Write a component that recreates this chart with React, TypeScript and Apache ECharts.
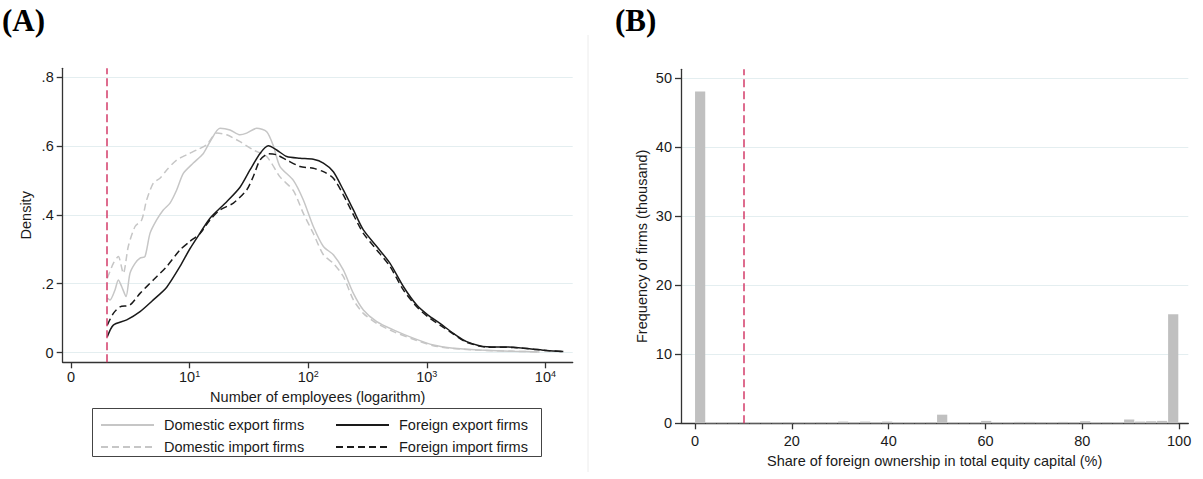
import React, { useEffect, useRef } from 'react';
import * as echarts from 'echarts';

// Panel A: kernel densities over log10(number of employees)
const domesticExport: number[][] = [
  [0.306, 0.158], [0.329, 0.153], [0.371, 0.182], [0.399, 0.211], [0.427, 0.192], [0.464, 0.163],
  [0.497, 0.23], [0.54, 0.259], [0.582, 0.274], [0.624, 0.279], [0.666, 0.346], [0.722, 0.385],
  [0.778, 0.414], [0.835, 0.434], [0.891, 0.472], [0.947, 0.52], [1.031, 0.55], [1.116, 0.578],
  [1.172, 0.612], [1.256, 0.651], [1.341, 0.646], [1.425, 0.632], [1.481, 0.637], [1.566, 0.651],
  [1.65, 0.641], [1.706, 0.6], [1.762, 0.54], [1.875, 0.5], [1.959, 0.443], [2.043, 0.366],
  [2.128, 0.308], [2.212, 0.284], [2.296, 0.24], [2.381, 0.172], [2.465, 0.124], [2.578, 0.09],
  [2.718, 0.066], [2.886, 0.042], [3.055, 0.022], [3.224, 0.013], [3.449, 0.008], [3.729, 0.004],
  [3.95, 0.002],
];
const domesticImport: number[][] = [
  [0.306, 0.216], [0.357, 0.259], [0.399, 0.279], [0.441, 0.23], [0.483, 0.308], [0.54, 0.366],
  [0.596, 0.385], [0.638, 0.443], [0.694, 0.492], [0.75, 0.506], [0.807, 0.53], [0.891, 0.559],
  [0.975, 0.574], [1.06, 0.588], [1.144, 0.603], [1.229, 0.637], [1.313, 0.632], [1.425, 0.612],
  [1.537, 0.588], [1.65, 0.569], [1.762, 0.51], [1.875, 0.47], [1.959, 0.404], [2.043, 0.346],
  [2.128, 0.284], [2.212, 0.259], [2.296, 0.221], [2.381, 0.153], [2.465, 0.114], [2.578, 0.085],
  [2.718, 0.061], [2.886, 0.039], [3.055, 0.02], [3.224, 0.012], [3.449, 0.007], [3.729, 0.004],
  [3.95, 0.002],
];
const foreignExport: number[][] = [
  [0.306, 0.046], [0.357, 0.08], [0.47, 0.095], [0.582, 0.119], [0.694, 0.153], [0.807, 0.19],
  [0.919, 0.25], [1.0, 0.3], [1.088, 0.347], [1.172, 0.39], [1.313, 0.438], [1.425, 0.48],
  [1.509, 0.53], [1.594, 0.578], [1.664, 0.6], [1.734, 0.588], [1.819, 0.569], [1.931, 0.564],
  [2.043, 0.561], [2.128, 0.55], [2.212, 0.525], [2.296, 0.472], [2.381, 0.414], [2.465, 0.356],
  [2.578, 0.308], [2.69, 0.259], [2.802, 0.192], [2.915, 0.138], [3.01, 0.109], [3.111, 0.085],
  [3.224, 0.056], [3.336, 0.032], [3.505, 0.017], [3.729, 0.016], [3.898, 0.01], [4.011, 0.006],
  [4.151, 0.003],
];
const foreignImport: number[][] = [
  [0.306, 0.08], [0.357, 0.114], [0.413, 0.133], [0.497, 0.138], [0.582, 0.172], [0.694, 0.211],
  [0.807, 0.25], [0.919, 0.298], [1.0, 0.322], [1.088, 0.346], [1.172, 0.385], [1.256, 0.414],
  [1.369, 0.434], [1.481, 0.472], [1.537, 0.511], [1.594, 0.559], [1.664, 0.577], [1.734, 0.574],
  [1.819, 0.559], [1.931, 0.54], [2.043, 0.535], [2.128, 0.525], [2.212, 0.506], [2.296, 0.458],
  [2.381, 0.4], [2.465, 0.346], [2.578, 0.298], [2.69, 0.25], [2.802, 0.182], [2.915, 0.133],
  [3.01, 0.104], [3.111, 0.08], [3.224, 0.054], [3.336, 0.03], [3.505, 0.016], [3.729, 0.015],
  [3.898, 0.01], [4.011, 0.006], [4.151, 0.003],
];
const xTicksA = [0, 1, 2, 3, 4];
const yTicksA = [0, 0.2, 0.4, 0.6, 0.8];
const employeeCutoff = 2; // employees

// Panel B: histogram of foreign ownership share (44 bins over 0-100%), thousand firms
const shareFreq = [
  48.1, 0.05, 0.05, 0.08, 0.1, 0.08, 0.08, 0.08, 0.15, 0.1, 0.08,
  0.15, 0.1, 0.25, 0.15, 0.25, 0.15, 0.25, 0.1, 0.08, 0.1, 0.15,
  1.25, 0.1, 0.1, 0.1, 0.35, 0.1, 0.1, 0.2, 0.2, 0.15, 0.1,
  0.2, 0.15, 0.3, 0.1, 0.15, 0.1, 0.55, 0.25, 0.3, 0.35, 15.8,
];
const binCount = 44;
const xTicksB = [0, 20, 40, 60, 80, 100];
const yTicksB = [0, 10, 20, 30, 40, 50];
const ownershipCutoff = 10;

const FONT = '"Liberation Sans", Arial, sans-serif';
const FS = 14.5;
const TXT = '#1a1a1a';
const AX = '#333333';
const GRIDC = '#e4eef0';
const RED = '#d43c6a';

export default function App() {
  const ref = useRef<HTMLDivElement>(null);
  useEffect(() => {
    const chart = echarts.init(ref.current!, null, { renderer: 'svg' });
    const bw = 100 / binCount;
    const bins = shareFreq.map((v, i) => [i * bw, (i + 1) * bw, v]);
    const axisLine = { show: true, onZero: false, lineStyle: { color: AX, width: 1.3 } };
    const tickStyle = { color: AX, width: 1.3 };
    const labelBase = { color: TXT, fontSize: FS, fontFamily: FONT };
    const nameStyle = { color: TXT, fontSize: FS, fontFamily: FONT };
    const legendCommon = {
      orient: 'vertical', top: 417.5, itemWidth: 53, itemHeight: 14, itemGap: 7, padding: 0,
      itemStyle: { opacity: 0, borderWidth: 0 },
      textStyle: { ...labelBase, padding: [0, 0, 0, 5] },
    };
    const option: any = {
      animation: false,
      backgroundColor: '#ffffff',
      textStyle: { fontFamily: FONT },
      title: [
        { text: '(A)', left: 2, top: 5, padding: 0, textStyle: { fontFamily: '"Liberation Serif", serif', fontWeight: 'bold', fontSize: 31, color: '#000' } },
        { text: '(B)', left: 615, top: 5, padding: 0, textStyle: { fontFamily: '"Liberation Serif", serif', fontWeight: 'bold', fontSize: 31, color: '#000' } },
      ],
      grid: [
        { left: 62.7, top: 68.3, width: 510, height: 294 },
        { left: 681, top: 69.3, width: 507.3, height: 354 },
      ],
      legend: [
        { ...legendCommon, data: ['Domestic export firms', 'Domestic import firms'], left: 100 },
        { ...legendCommon, data: ['Foreign export firms', 'Foreign import firms'], left: 335 },
      ],
      graphic: [
        { type: 'rect', shape: { x: 92.5, y: 408.5, width: 449, height: 48 }, style: { fill: 'none', stroke: '#444', lineWidth: 1 }, silent: true },
        { type: 'line', shape: { x1: 588, y1: 35, x2: 588, y2: 472 }, style: { stroke: '#ececec', lineWidth: 1 }, silent: true },
      ],
      xAxis: [
        {
          type: 'value', gridIndex: 0, min: -0.07, max: 4.23,
          axisLine, axisTick: { show: true, customValues: xTicksA, length: 6, lineStyle: tickStyle },
          axisLabel: {
            customValues: xTicksA, margin: 7,
            formatter: (v: number) => (v === 0 ? '{b|0}' : '{b|10}{s|' + v + '}'),
            rich: {
              b: { ...labelBase, lineHeight: 16 },
              s: { color: TXT, fontSize: 9, fontFamily: FONT, lineHeight: 16, verticalAlign: 'top' },
            },
          },
          splitLine: { show: false },
          name: 'Number of employees (logarithm)', nameLocation: 'middle', nameGap: 26, nameTextStyle: nameStyle,
        },
        {
          type: 'value', gridIndex: 1, min: -2.9, max: 101.9,
          axisLine, axisTick: { show: true, customValues: xTicksB, length: 6, lineStyle: tickStyle },
          axisLabel: { customValues: xTicksB, margin: 10, ...labelBase },
          splitLine: { show: false },
          name: 'Share of foreign ownership in total equity capital (%)', nameLocation: 'middle', nameGap: 24.5, nameTextStyle: nameStyle,
        },
      ],
      yAxis: [
        {
          type: 'value', gridIndex: 0, min: -0.028, max: 0.825,
          axisLine, axisTick: { show: true, customValues: yTicksA, length: 6, lineStyle: tickStyle },
          axisLabel: { customValues: yTicksA, margin: 9, ...labelBase, formatter: (v: number) => (v === 0 ? '0' : String(v).replace(/^0/, '')) },
          splitLine: { show: true, lineStyle: { color: GRIDC, width: 1 } },
          name: 'Density', nameLocation: 'middle', nameGap: 29, nameTextStyle: nameStyle,
        },
        {
          type: 'value', gridIndex: 1, min: 0, max: 51.3,
          axisLine, axisTick: { show: true, customValues: yTicksB, length: 6, lineStyle: tickStyle },
          axisLabel: { customValues: yTicksB, margin: 9, ...labelBase },
          splitLine: { show: true, lineStyle: { color: GRIDC, width: 1 } },
          name: 'Frequency of firms (thousand)', nameLocation: 'middle', nameGap: 32, nameTextStyle: nameStyle,
        },
      ],
      series: [
        {
          name: 'Domestic export firms', type: 'line', xAxisIndex: 0, yAxisIndex: 0, data: domesticExport,
          symbol: 'none', smooth: 0.25, lineStyle: { color: '#c6c6c6', width: 1.5, type: 'solid' }, itemStyle: { color: '#c6c6c6' },
          markLine: {
            silent: true, symbol: 'none', label: { show: false },
            lineStyle: { color: RED, type: [8, 4], width: 1.5 },
            data: [{ xAxis: Math.log10(employeeCutoff) }],
          },
        },
        {
          name: 'Domestic import firms', type: 'line', xAxisIndex: 0, yAxisIndex: 0, data: domesticImport,
          symbol: 'none', smooth: 0.25, lineStyle: { color: '#c6c6c6', width: 1.5, type: [7, 4] }, itemStyle: { color: '#c6c6c6' },
        },
        {
          name: 'Foreign export firms', type: 'line', xAxisIndex: 0, yAxisIndex: 0, data: foreignExport,
          symbol: 'none', smooth: 0.25, lineStyle: { color: '#1a1a1a', width: 1.5, type: 'solid' }, itemStyle: { color: '#1a1a1a' },
        },
        {
          name: 'Foreign import firms', type: 'line', xAxisIndex: 0, yAxisIndex: 0, data: foreignImport,
          symbol: 'none', smooth: 0.25, lineStyle: { color: '#1a1a1a', width: 1.5, type: [7, 4] }, itemStyle: { color: '#1a1a1a' },
        },
        {
          name: 'Ownership share', type: 'custom', xAxisIndex: 1, yAxisIndex: 1, data: bins,
          encode: { x: [0, 1], y: 2 },
          renderItem: (params: any, api: any) => {
            const p0 = api.coord([api.value(0), api.value(2)]);
            const p1 = api.coord([api.value(1), 0]);
            return {
              type: 'rect',
              shape: { x: p0[0], y: p0[1], width: p1[0] - p0[0] - 0.8, height: p1[1] - p0[1] },
              style: { fill: '#c0c0c0' },
            };
          },
          markLine: {
            silent: true, symbol: 'none', label: { show: false },
            lineStyle: { color: RED, type: [8, 4], width: 1.5 },
            data: [{ xAxis: ownershipCutoff }],
          },
        },
      ],
    };
    chart.setOption(option);
    return () => chart.dispose();
  }, []);
  return (
    <div
      ref={ref}
      style={{ position: 'absolute', left: 0, top: 0, width: 1203, height: 479, background: '#fff' }}
    />
  );
}
